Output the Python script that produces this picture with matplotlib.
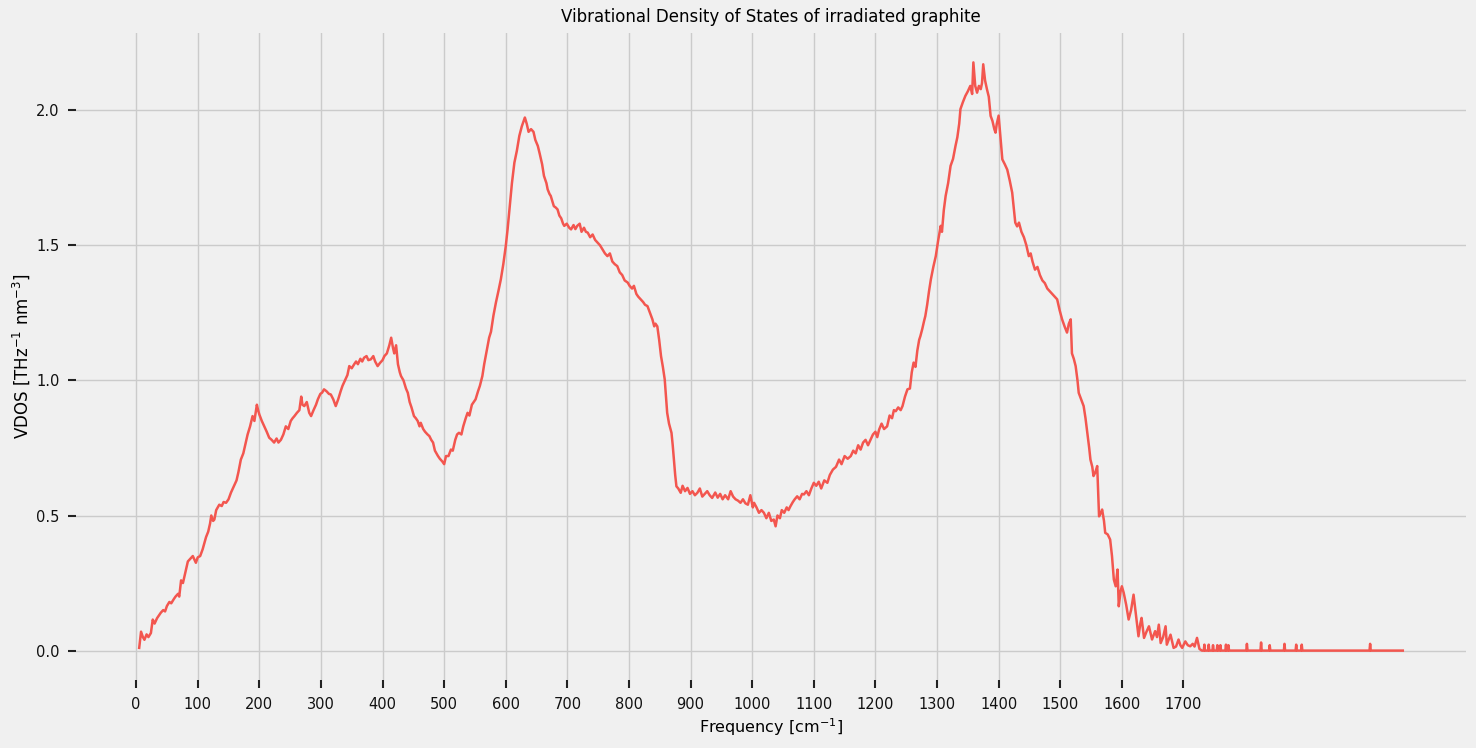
import matplotlib
matplotlib.use("Agg")
import matplotlib.pyplot as plt
import numpy as np

title = "Vibrational Density of States of irradiated graphite"
xlabel = "Frequency [cm$^{-1}$]"
ylabel = "VDOS [THz$^{-1}$ nm$^{-3}$]"
xticks = list(range(0, 1800, 100))

freq = [5, 8, 11, 13.5, 17, 20, 24, 27, 30, 34, 37, 40, 44, 47, 50, 54, 57, 61, 64, 68, 70, 73, 76, 80, 84, 88, 92, 95, 97, 100,
        104, 108, 111, 113.5, 117, 120, 122, 125, 127, 130, 135, 139, 142, 146, 150, 154, 159, 163, 166, 170, 174, 178, 181, 185, 189, 192, 196, 198, 200,
        204, 208, 212, 216, 220, 224, 228, 231, 235, 239, 243, 247, 251, 254, 257, 261, 265, 268, 270, 273, 277, 281, 284, 288, 292, 295, 299, 302, 305,
        309, 313, 316, 320, 324, 328, 332, 335, 339, 343, 346, 350, 354, 357, 360, 364, 367, 370, 374, 377, 381, 385, 388, 392, 396, 400,
        403, 407, 411, 414, 417, 419, 422, 425, 428, 430, 434, 438, 441, 444, 447, 451, 454, 457, 460, 462, 466, 469, 473, 476, 479, 482, 485, 487, 490, 493, 497, 500,
        503, 507, 511, 514, 518, 521, 524, 528, 531, 535, 538, 541, 545, 548, 551, 555, 558, 562, 565, 569, 573, 576, 580, 584, 588, 592, 596, 600,
        603, 606, 610, 614, 618, 622, 626, 629, 631, 634, 637, 641, 645, 648, 652, 655, 659, 662, 666, 668, 671, 673, 676, 678, 681, 684, 687, 690, 693, 695, 699,
        703, 706, 710, 713, 716, 720, 723, 727, 730, 733, 737, 741, 745, 749, 753, 757, 761, 765, 769, 773, 777, 781, 785, 789, 793, 798,
        801, 805, 808, 812, 815, 819, 823, 826, 830, 834, 838, 841, 843, 846, 849, 852, 855, 858, 860, 862, 865, 869, 871, 873, 875, 877, 880, 884, 887, 891, 895, 899,
        903, 907, 911, 915, 919, 923, 927, 931, 935, 940, 944, 948, 952, 956, 961, 965, 969, 973, 977, 981, 985, 989, 993, 997,
        1001, 1003, 1007, 1011, 1015, 1019, 1023, 1027, 1031, 1035, 1038, 1041, 1045, 1048, 1052, 1056, 1059, 1062, 1066, 1069, 1073, 1077, 1081, 1084, 1088, 1092, 1096,
        1100, 1104, 1108, 1112, 1117, 1122, 1126, 1131, 1136, 1141, 1145, 1150, 1155, 1160, 1164, 1168, 1172, 1176, 1180, 1184, 1188, 1192, 1196,
        1200, 1203, 1206, 1210, 1214, 1219, 1223, 1227, 1230, 1233, 1237, 1241, 1244, 1248, 1252, 1256, 1259, 1262, 1265, 1268, 1271, 1273, 1276, 1279, 1281, 1284, 1287, 1290, 1294, 1298,
        1302, 1306, 1308, 1311, 1314, 1318, 1322, 1326, 1330, 1333, 1336, 1338, 1342, 1346, 1350, 1354, 1357, 1359, 1362, 1365, 1368, 1371, 1373, 1375, 1378, 1381, 1384, 1387, 1390, 1393, 1395, 1397,
        1400, 1403, 1406, 1410, 1414, 1418, 1422, 1425, 1427, 1430, 1433, 1437, 1441, 1445, 1449, 1452, 1455, 1459, 1463, 1467, 1471, 1475, 1479, 1483, 1487, 1491, 1495, 1499,
        1503, 1507, 1511, 1514, 1517, 1519, 1522, 1525, 1528, 1530, 1534, 1538, 1541, 1544, 1547, 1549, 1552, 1554, 1557, 1560, 1563, 1566, 1568, 1571, 1573, 1577, 1581, 1584, 1587, 1590, 1593, 1595, 1598,
        1600, 1603, 1607, 1611, 1615, 1619, 1623, 1627, 1630, 1632, 1636, 1640, 1644, 1647, 1649, 1652, 1654, 1657, 1660, 1663, 1667, 1671, 1673, 1676, 1679, 1682, 1684, 1688, 1692, 1695, 1698,
        1700, 1703, 1707, 1711, 1715, 1718, 1722, 1726, 1730,
        1733, 1734, 1735, 1740, 1741, 1742, 1747, 1748, 1749, 1754, 1755, 1756, 1759, 1760, 1761, 1768, 1769, 1770, 1772, 1773, 1774,
        1802, 1803, 1804, 1825, 1826, 1827, 1839, 1840, 1841, 1863, 1864, 1865, 1882, 1883, 1884, 1891, 1892, 1893, 2002, 2003, 2004, 2056]

vdos = [0.01, 0.07, 0.05, 0.04, 0.06, 0.05, 0.065, 0.115, 0.10, 0.12, 0.13, 0.14, 0.15, 0.145, 0.165, 0.18, 0.175, 0.19, 0.20, 0.21, 0.20, 0.26, 0.25, 0.29, 0.33, 0.34, 0.35, 0.335, 0.325, 0.345,
        0.35, 0.375, 0.40, 0.42, 0.44, 0.47, 0.50, 0.48, 0.485, 0.52, 0.54, 0.535, 0.55, 0.547, 0.56, 0.585, 0.61, 0.63, 0.66, 0.707, 0.73, 0.77, 0.80, 0.83, 0.868, 0.85, 0.91, 0.89, 0.874,
        0.85, 0.83, 0.81, 0.788, 0.78, 0.77, 0.785, 0.77, 0.78, 0.80, 0.83, 0.82, 0.85, 0.86, 0.868, 0.88, 0.89, 0.94, 0.91, 0.905, 0.92, 0.88, 0.868, 0.89, 0.91, 0.93, 0.95, 0.955, 0.967,
        0.96, 0.95, 0.948, 0.93, 0.905, 0.93, 0.96, 0.98, 1.00, 1.02, 1.053, 1.045, 1.06, 1.07, 1.06, 1.08, 1.07, 1.084, 1.09, 1.075, 1.078, 1.09, 1.07, 1.053, 1.065, 1.075,
        1.09, 1.10, 1.13, 1.158, 1.12, 1.10, 1.13, 1.06, 1.03, 1.016, 1.00, 0.97, 0.954, 0.92, 0.90, 0.868, 0.86, 0.85, 0.83, 0.843, 0.82, 0.81, 0.80, 0.794, 0.78, 0.77, 0.74, 0.732, 0.72, 0.71, 0.70, 0.69,
        0.72, 0.72, 0.744, 0.74, 0.78, 0.80, 0.806, 0.80, 0.83, 0.86, 0.88, 0.87, 0.91, 0.92, 0.93, 0.96, 0.98, 1.016, 1.06, 1.11, 1.158, 1.18, 1.24, 1.288, 1.33, 1.374, 1.43, 1.497,
        1.56, 1.633, 1.73, 1.806, 1.85, 1.905, 1.94, 1.96, 1.973, 1.95, 1.92, 1.93, 1.92, 1.89, 1.868, 1.84, 1.80, 1.757, 1.73, 1.707, 1.69, 1.683, 1.66, 1.645, 1.64, 1.633, 1.61, 1.60, 1.58, 1.572, 1.58,
        1.565, 1.559, 1.575, 1.56, 1.572, 1.58, 1.55, 1.565, 1.55, 1.547, 1.53, 1.54, 1.52, 1.51, 1.50, 1.485, 1.47, 1.46, 1.47, 1.44, 1.43, 1.423, 1.40, 1.39, 1.37, 1.362,
        1.35, 1.34, 1.35, 1.32, 1.31, 1.30, 1.29, 1.28, 1.275, 1.25, 1.226, 1.20, 1.21, 1.20, 1.15, 1.09, 1.05, 1.004, 0.94, 0.88, 0.84, 0.806, 0.76, 0.707, 0.65, 0.608, 0.60, 0.584, 0.61, 0.59, 0.602, 0.58,
        0.59, 0.575, 0.584, 0.60, 0.57, 0.58, 0.59, 0.575, 0.565, 0.585, 0.566, 0.58, 0.56, 0.575, 0.56, 0.59, 0.57, 0.56, 0.555, 0.547, 0.56, 0.545, 0.54, 0.575,
        0.53, 0.547, 0.53, 0.51, 0.52, 0.51, 0.49, 0.51, 0.48, 0.485, 0.46, 0.50, 0.49, 0.52, 0.51, 0.53, 0.52, 0.534, 0.55, 0.56, 0.571, 0.56, 0.58, 0.578, 0.59, 0.575, 0.60,
        0.621, 0.61, 0.625, 0.60, 0.63, 0.621, 0.65, 0.67, 0.68, 0.707, 0.69, 0.72, 0.71, 0.72, 0.74, 0.73, 0.76, 0.744, 0.77, 0.78, 0.76, 0.78, 0.80,
        0.81, 0.79, 0.818, 0.84, 0.82, 0.83, 0.87, 0.86, 0.89, 0.886, 0.90, 0.89, 0.905, 0.94, 0.967, 0.97, 1.03, 1.066, 1.05, 1.11, 1.15, 1.164, 1.19, 1.22, 1.238, 1.28, 1.33, 1.374, 1.42, 1.46,
        1.52, 1.572, 1.55, 1.63, 1.683, 1.73, 1.794, 1.82, 1.868, 1.90, 1.95, 2.004, 2.03, 2.053, 2.07, 2.09, 2.06, 2.177, 2.09, 2.065, 2.09, 2.078, 2.10, 2.17, 2.11, 2.078, 2.05, 1.979, 1.96, 1.93, 1.917, 1.95,
        1.98, 1.90, 1.818, 1.80, 1.78, 1.74, 1.695, 1.63, 1.584, 1.57, 1.584, 1.55, 1.53, 1.50, 1.46, 1.47, 1.44, 1.41, 1.42, 1.39, 1.37, 1.36, 1.34, 1.33, 1.32, 1.31, 1.30, 1.26,
        1.226, 1.20, 1.177, 1.21, 1.226, 1.10, 1.08, 1.053, 1.00, 0.954, 0.93, 0.905, 0.86, 0.806, 0.75, 0.707, 0.68, 0.646, 0.66, 0.683, 0.497, 0.51, 0.522, 0.48, 0.436, 0.43, 0.411, 0.35, 0.263, 0.238, 0.30, 0.164, 0.22,
        0.238, 0.214, 0.17, 0.115, 0.15, 0.207, 0.13, 0.053, 0.10, 0.121, 0.047, 0.07, 0.09, 0.06, 0.041, 0.06, 0.072, 0.05, 0.096, 0.028, 0.05, 0.09, 0.022, 0.04, 0.059, 0.03, 0.01, 0.015, 0.041, 0.02, 0.01,
        0.02, 0.034, 0.02, 0.016, 0.025, 0.015, 0.047, 0.006, 0.0,
        0.0, 0.022, 0.0, 0.0, 0.022, 0.0, 0.0, 0.02, 0.0, 0.0, 0.02, 0.0, 0.0, 0.02, 0.0, 0.0, 0.022, 0.0, 0.0, 0.02, 0.0,
        0.0, 0.025, 0.0, 0.0, 0.03, 0.0, 0.0, 0.02, 0.0, 0.0, 0.025, 0.0, 0.0, 0.022, 0.0, 0.0, 0.022, 0.0, 0.0, 0.025, 0.0, 0.0]

bg = "#f0f0f0"
fig = plt.figure(figsize=(14.76, 7.48), dpi=100, facecolor=bg)
ax = fig.add_axes([0.0515, 0.0909, 0.9417, 0.865], facecolor=bg)
ax.plot(freq, vdos, color="#f3564f", lw=1.8)
ax.set_xticks(xticks)
ax.grid(True, color="#cbcbcb", lw=1.0)
ax.set_axisbelow(True)
for s in ax.spines.values():
    s.set_visible(False)
ax.tick_params(axis="both", direction="out", length=6, width=1.5, color="#222222",
               labelsize=10.5, labelcolor="#111111", pad=6)
ax.set_title(title, fontsize=12, pad=8)
ax.set_xlabel(xlabel, fontsize=11.5, labelpad=3)
ax.set_ylabel(ylabel, fontsize=12, labelpad=3)
fig.savefig("out.png", dpi=100, facecolor=bg)
